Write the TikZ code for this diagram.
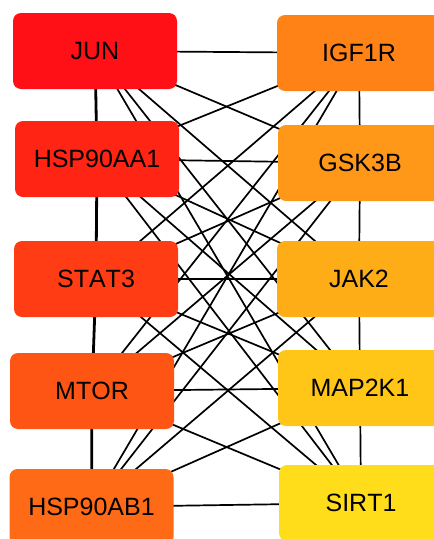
\documentclass[tikz,border=0pt]{standalone}
\usepackage{fontspec}
\setmainfont{Liberation Sans}[Kerning=Off]
\usetikzlibrary{backgrounds}
\definecolor{cJUN}{RGB}{255,16,22}
\definecolor{cHAA}{RGB}{255,36,20}
\definecolor{cSTA}{RGB}{255,60,20}
\definecolor{cMTO}{RGB}{255,85,20}
\definecolor{cHAB}{RGB}{255,106,22}
\definecolor{cIGF}{RGB}{255,130,22}
\definecolor{cGSK}{RGB}{255,152,24}
\definecolor{cJAK}{RGB}{255,173,22}
\definecolor{cMAP}{RGB}{255,198,24}
\definecolor{cSIR}{RGB}{255,221,26}
\tikzset{
  gene/.style={rectangle, rounded corners=8pt, minimum width=164pt, minimum height=76pt,
    inner sep=0pt, font=\fontsize{25}{30}\selectfont, text=black},
  edge/.style={draw=black, line width=1.7pt},
  vedge/.style={draw=black, line width=2.8pt},
}
\begin{document}
\begin{tikzpicture}[x=1pt,y=-1pt]
\useasboundingbox (0,0) rectangle (434,539);
\clip (0,0) rectangle (434,539);
\node[gene, fill=cJUN] (jun) at (95,51) {JUN};
\node[gene, fill=cHAA] (haa) at (97,159) {HSP90AA1};
\node[gene, fill=cSTA] (sta) at (96,279) {STAT3};
\node[gene, fill=cMTO] (mto) at (92,391) {MTOR};
\node[gene, fill=cHAB] (hab) at (91.5,507) {HSP90AB1};
\node[gene, fill=cIGF] (igf) at (359,53) {IGF1R};
\node[gene, fill=cGSK] (gsk) at (360,163) {GSK3B};
\node[gene, fill=cJAK] (jak) at (359,279) {JAK2};
\node[gene, fill=cMAP] (map) at (360,388) {MAP2K1};
\node[gene, fill=cSIR] (sir) at (361,503) {SIRT1};
\begin{pgfonlayer}{background}
  \foreach \l in {jun,haa,sta,mto,hab}{
    \foreach \r in {igf,gsk,jak,map,sir}{
      \draw[edge] (\l.center) -- (\r.center);
    }
  }
  \draw[vedge] (jun.center) -- (haa.center);
  \draw[vedge] (haa.center) -- (sta.center);
  \draw[vedge] (sta.center) -- (mto.center);
  \draw[vedge] (mto.center) -- (hab.center);
  \draw[edge] (igf.center) -- (gsk.center);
  \draw[edge] (gsk.center) -- (jak.center);
  \draw[edge] (jak.center) -- (map.center);
  \draw[edge] (map.center) -- (sir.center);
\end{pgfonlayer}
\end{tikzpicture}
\end{document}
